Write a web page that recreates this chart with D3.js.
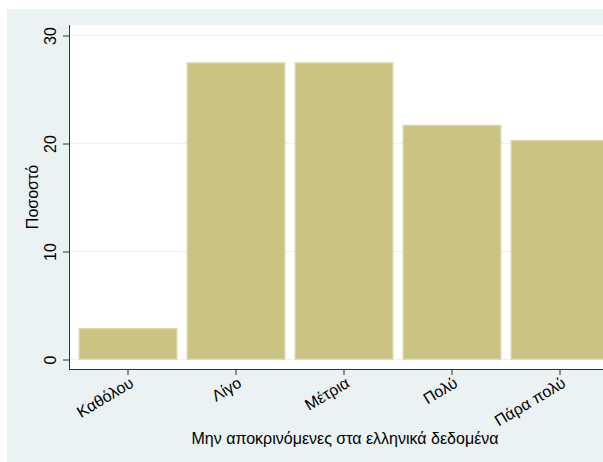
<!DOCTYPE html>
<html><head><meta charset="utf-8">
<script src="https://cdn.jsdelivr.net/npm/d3@7"></script>
<style>body{margin:0;background:#fff}text{font-family:"Liberation Sans",Arial,sans-serif}</style>
</head><body><svg id="c" width="603" height="462"></svg>
<script>
const categories = ["Καθόλου","Λίγο","Μέτρια","Πολύ","Πάρα πολύ"];
const values = [2.9, 27.5, 27.5, 21.7, 20.3];
const yTicks = [0, 10, 20, 30];
const xTitle = "Μην αποκρινόμενες στα ελληνικά δεδομένα";
const yTitle = "Ποσοστό";

const svg = d3.select("#c");
svg.append("rect").attr("x",7).attr("y",9).attr("width",596).attr("height",453).attr("fill","#eaf2f3");
const L = 69, T = 25, B = 369, R = 614;
svg.append("rect").attr("x",L).attr("y",T).attr("width",603-L).attr("height",B-T).attr("fill","#fff");

const y = d3.scaleLinear().domain([0,30]).range([359.5,35.5]);
const x = d3.scaleBand().domain(categories).range([74, 614]).paddingInner(0.09).paddingOuter(0.045);

svg.append("g").selectAll("line").data(yTicks).join("line")
  .attr("x1",L).attr("x2",603).attr("y1",d=>y(d)).attr("y2",d=>y(d))
  .attr("stroke","#eaf2f3").attr("stroke-width",1);

svg.append("g").selectAll("rect").data(values).join("rect")
  .attr("x",(d,i)=>x(categories[i])+0.5)
  .attr("y",d=>y(d)+0.5)
  .attr("width",x.bandwidth()-1)
  .attr("height",d=>y(0)-y(d)-1)
  .attr("fill","#cbc383").attr("stroke","#d9d3a0").attr("stroke-width",1.5);

const ya = svg.append("g").attr("transform",`translate(${L},0)`)
  .call(d3.axisLeft(y).tickValues(yTicks).tickSize(6).tickPadding(5));
ya.select(".domain").attr("d",`M0.5,${T}V${B}`).attr("stroke","#333");
ya.selectAll(".tick line").attr("stroke","#333").attr("x1",0.5).attr("x2",-6);
ya.selectAll(".tick text").attr("font-size",16).attr("fill","#000")
  .attr("transform","rotate(-90)").attr("text-anchor","middle").attr("dy",0)
  .attr("x",0).attr("y",-13);

const xa = svg.append("g").attr("transform",`translate(0,${B})`)
  .call(d3.axisBottom(x).tickSize(6).tickPadding(4));
xa.select(".domain").attr("d",`M${L},0.5H603`).attr("stroke","#333");
xa.selectAll(".tick line").attr("stroke","#333");
xa.selectAll(".tick text").attr("font-size",16).attr("fill","#000")
  .attr("text-anchor","end").attr("dy","0.75em").attr("y",6).attr("x",-3)
  .attr("transform","rotate(-31)");

svg.append("text").attr("x",345).attr("y",444).attr("text-anchor","middle")
  .attr("font-size",16).attr("fill","#000").text(xTitle);
svg.append("text").attr("transform","translate(38,197) rotate(-90)").attr("text-anchor","middle")
  .attr("font-size",16).attr("fill","#000").text(yTitle);
</script></body></html>
